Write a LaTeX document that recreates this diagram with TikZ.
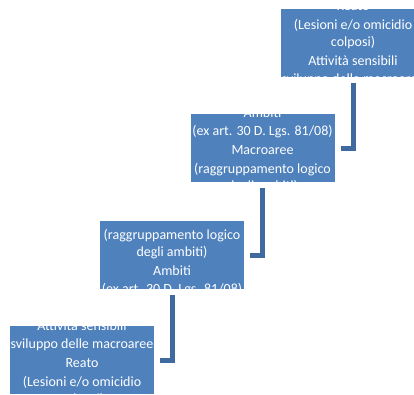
\documentclass[tikz,border=0pt]{standalone}
\usepackage{fontspec}
\setmainfont{Carlito}
\definecolor{boxblue}{RGB}{79,129,189}
\definecolor{linkblue}{RGB}{62,106,160}
\begin{document}
\begin{tikzpicture}[x=1pt,y=1pt,
  stepbox/.style={fill=boxblue,draw=none,minimum width=144pt,minimum height=68pt,inner sep=0pt},
  steptext/.style={text=white,align=center,inner sep=0pt,font=\fontsize{14}{16.8}\selectfont},
  link/.style={draw=linkblue,line width=5pt}]
\clip (0,0) rectangle (414,-394);
\useasboundingbox (0,0) rectangle (414,-394);
\fill[white] (0,0) rectangle (414,-394);
\node[stepbox] (b1) at (353,-43) {};
\node[stepbox] (b2) at (262.5,-148) {};
\node[stepbox] (b3) at (172,-255) {};
\node[stepbox] (b4) at (82,-360) {};
\begin{scope}
\clip (b1.south west) rectangle (b1.north east);
\node[steptext] (t1) at ([yshift=-1pt]b1.center) {Reato\\[2pt](Lesioni e/o omicidio\\colposi)\\[2pt]Attività sensibili\\[2pt](sviluppo delle macroaree)};
\end{scope}
\begin{scope}
\clip (b2.south west) rectangle (b2.north east);
\node[steptext] (t2) at ([yshift=-2pt]b2.center) {Ambiti\\[2pt](ex art. 30 D. Lgs. 81/08)\\[2pt]Macroaree\\[2pt](raggruppamento logico\\degli ambiti)};
\end{scope}
\begin{scope}
\clip (b3.south west) rectangle (b3.north east);
\node[steptext] (t3) at ([yshift=1pt]b3.center) {Macroaree\\[2pt](raggruppamento logico\\degli ambiti)\\[2pt]Ambiti\\[2pt](ex art. 30 D. Lgs. 81/08)};
\end{scope}
\begin{scope}
\clip (b4.south west) rectangle (b4.north east);
\node[steptext] (t4) at ([yshift=-3pt]b4.center) {Attività sensibili\\[2pt](sviluppo delle macroaree)\\[2pt]Reato\\[2pt](Lesioni e/o omicidio\\colposi)};
\end{scope}
\draw[link] ([yshift=-6pt]b1.south) |- ([xshift=6pt]b2.east);
\draw[link] ([yshift=-6pt]b2.south) |- ([xshift=6pt]b3.east);
\draw[link] ([yshift=-6pt]b3.south) |- ([xshift=6pt]b4.east);
\end{tikzpicture}
\end{document}
